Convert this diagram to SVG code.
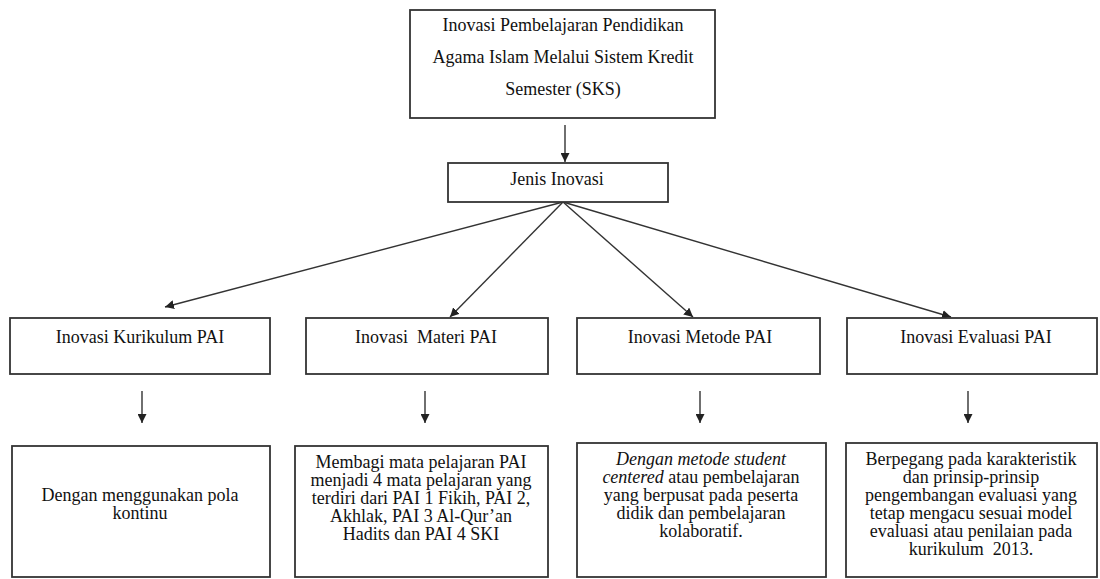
<svg xmlns="http://www.w3.org/2000/svg" width="1100" height="579" viewBox="0 0 1100 579">
<defs>
<style>
.box{fill:#fff;stroke:#333;stroke-width:1.8}
.t{font-family:"Liberation Serif","Times New Roman",serif;font-size:18px;fill:#111;text-anchor:middle}
.s{font-family:"Liberation Serif","Times New Roman",serif;font-size:18px;fill:#111;text-anchor:middle}
.c{stroke:#333;stroke-width:1.4;fill:none;marker-end:url(#ah)}
</style>
<marker id="ah" viewBox="0 0 10 10" refX="10" refY="5" markerWidth="9" markerHeight="9" markerUnits="userSpaceOnUse" orient="auto">
<path d="M0,0 L10,5 L0,10 z" fill="#222"/>
</marker>
</defs>
<rect width="1100" height="579" fill="#fff"/>
<g id="connectors">
<line class="c" x1="565" y1="125" x2="565" y2="162"/>
<line class="c" x1="563" y1="202" x2="165" y2="307"/>
<line class="c" x1="563" y1="202" x2="450" y2="317"/>
<line class="c" x1="563" y1="202" x2="693" y2="317"/>
<line class="c" x1="563" y1="202" x2="951" y2="317"/>
<line class="c" x1="142" y1="391" x2="142" y2="423"/>
<line class="c" x1="425" y1="391" x2="425" y2="423"/>
<line class="c" x1="700" y1="391" x2="700" y2="423"/>
<line class="c" x1="968" y1="391" x2="968" y2="423"/>
</g>
<g id="n-root">
<rect class="box" x="410" y="10" width="305" height="108"/>
<text class="t" x="563" y="31">Inovasi Pembelajaran Pendidikan</text>
<text class="t" x="563" y="63">Agama Islam Melalui Sistem Kredit</text>
<text class="t" x="563" y="95">Semester (SKS)</text>
</g>
<g id="n-jenis">
<rect class="box" x="448" y="163" width="220" height="39"/>
<text class="t" x="557" y="185">Jenis Inovasi</text>
</g>
<g id="n-kurikulum">
<rect class="box" x="10" y="318" width="260" height="56"/>
<text class="t" x="140" y="343">Inovasi Kurikulum PAI</text>
</g>
<g id="n-materi">
<rect class="box" x="306" y="318" width="242" height="56"/>
<text class="t" x="426" y="343">Inovasi&#160; Materi PAI</text>
</g>
<g id="n-metode">
<rect class="box" x="577" y="318" width="243" height="56"/>
<text class="t" x="700" y="343">Inovasi Metode PAI</text>
</g>
<g id="n-evaluasi">
<rect class="box" x="847" y="318" width="250" height="56"/>
<text class="t" x="976" y="343">Inovasi Evaluasi PAI</text>
</g>
<g id="n-d1">
<rect class="box" x="12" y="446" width="258" height="131"/>
<text class="s" x="140" y="501">Dengan menggunakan pola</text>
<text class="s" x="140" y="519">kontinu</text>
</g>
<g id="n-d2">
<rect class="box" x="295" y="446" width="253" height="131"/>
<text class="s" x="421" y="468">Membagi mata pelajaran PAI</text>
<text class="s" x="421" y="486">menjadi 4 mata pelajaran yang</text>
<text class="s" x="421" y="504">terdiri dari PAI 1 Fikih, PAI 2,</text>
<text class="s" x="421" y="522">Akhlak, PAI 3 Al-Qur’an</text>
<text class="s" x="421" y="540">Hadits dan PAI 4 SKI</text>
</g>
<g id="n-d3">
<rect class="box" x="577" y="443" width="249" height="134"/>
<text class="s" x="701" y="465" font-style="italic">Dengan metode student</text>
<text class="s" x="701" y="483"><tspan font-style="italic">centered</tspan> atau pembelajaran</text>
<text class="s" x="701" y="501">yang berpusat pada peserta</text>
<text class="s" x="701" y="519">didik dan pembelajaran</text>
<text class="s" x="701" y="537">kolaboratif.</text>
</g>
<g id="n-d4">
<rect class="box" x="846" y="443" width="251" height="134"/>
<text class="s" x="971" y="465">Berpegang pada karakteristik</text>
<text class="s" x="971" y="483">dan prinsip-prinsip</text>
<text class="s" x="971" y="501">pengembangan evaluasi yang</text>
<text class="s" x="971" y="519">tetap mengacu sesuai model</text>
<text class="s" x="971" y="537">evaluasi atau penilaian pada</text>
<text class="s" x="971" y="555">kurikulum&#160; 2013.</text>
</g>
</svg>
